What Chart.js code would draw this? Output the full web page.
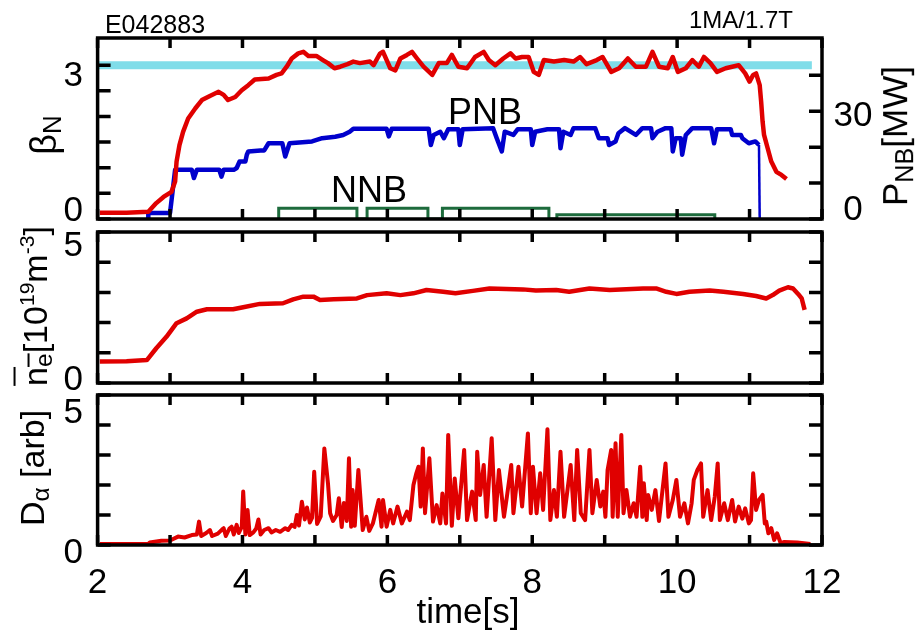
<!DOCTYPE html>
<html>
<head>
<meta charset="utf-8">
<script src="https://cdn.jsdelivr.net/npm/chart.js@4.4.0/dist/chart.umd.min.js"></script>
<style>
  body { margin: 0; background: #fff; font-family: "Liberation Sans", Arial, sans-serif; }
  #wrap { position: relative; width: 916px; height: 632px; overflow: hidden; }
  #wrap canvas { position: absolute; left: 0; top: 0; }
  .lbl { position: absolute; white-space: nowrap; color: #000; line-height: 1; transform: translate(-50%, -50%); }
  .rot { transform: translate(-50%, -50%) rotate(-90deg); }
  .sb { font-size: 0.72em; vertical-align: -0.22em; }
  .sp { font-size: 0.62em; vertical-align: 0.62em; }
  .ov { text-decoration: overline; text-decoration-thickness: 2px; }
</style>
</head>
<body>
<div id="wrap">
  <canvas id="pTop" width="916" height="632"></canvas>
  <canvas id="pMid" width="916" height="632"></canvas>
  <canvas id="pBot" width="916" height="632"></canvas>

  <div class="lbl" style="left:155px;top:24px;font-size:25px">E042883</div>
  <div class="lbl" style="left:741px;top:20px;font-size:24px">1MA/1.7T</div>
  <div class="lbl" style="left:485px;top:112px;font-size:36px">PNB</div>
  <div class="lbl" style="left:369px;top:190px;font-size:36px">NNB</div>
  <div class="lbl rot" style="left:46px;top:135px;font-size:36px">β<span class="sb">N</span></div>
  <div class="lbl rot" style="left:897px;top:136px;font-size:35px">P<span class="sb">NB</span>[MW]</div>
  <div class="lbl rot" style="left:36px;top:306px;font-size:34px"><span class="ov">n<span class="sb">e</span></span>[10<span class="sp">19</span>m<span class="sp">-3</span>]</div>
  <div class="lbl rot" style="left:34px;top:468px;font-size:34px">D<span class="sb">α</span> [arb]</div>
  <div class="lbl" style="left:468px;top:610px;font-size:35px">time[s]</div>
</div>

<script>
// ---- data ----
const timeTicks = [2, 3, 4, 5, 6, 7, 8, 9, 10, 11, 12];
const timeLabels = [2, 4, 6, 8, 10, 12];

const betaTicks = [0, 0.5, 1, 1.5, 2, 2.5, 3];
const betaLabels = [0, 3];
const pnbTicks = [0, 10, 20, 30, 40];
const pnbLabels = [0, 30];
const neTicks = [0, 1, 2, 3, 4, 5];
const neLabels = [0, 5];
const daTicks = [0, 1, 2, 3, 4, 5];
const daLabels = [0, 5];

const betaRefT = [2.0, 11.86];
const betaRefV = [3, 3];

const betaT = [2.03, 2.40, 2.70, 2.81, 2.91, 3.02, 3.07, 3.09, 3.13, 3.18, 3.25, 3.35, 3.44, 3.55, 3.67, 3.74, 3.80, 3.90, 3.99,
  4.08, 4.17, 4.36, 4.47, 4.54, 4.61, 4.68, 4.77, 4.84, 4.91, 5.02, 5.11, 5.18, 5.27, 5.35, 5.45, 5.53, 5.62, 5.76, 5.81, 5.90,
  5.94, 6.04, 6.11, 6.18, 6.27, 6.34, 6.41, 6.50, 6.62, 6.71, 6.82, 6.89, 6.98, 7.10, 7.21, 7.33, 7.40, 7.49, 7.60, 7.70, 7.77,
  7.86, 7.95, 8.02, 8.09, 8.16, 8.30, 8.44, 8.57, 8.66, 8.75, 8.89, 8.97, 9.09, 9.20, 9.32, 9.43, 9.57, 9.66, 9.75, 9.87, 9.94,
  10.01, 10.12, 10.21, 10.30, 10.37, 10.46, 10.55, 10.67, 10.76, 10.85, 10.94, 11.00, 11.05, 11.09, 11.14, 11.16, 11.18, 11.20,
  11.25, 11.30, 11.37, 11.44, 11.51];
const betaN = [0.12, 0.12, 0.14, 0.31, 0.43, 0.53, 0.73, 1.12, 1.44, 1.70, 1.96, 2.16, 2.32, 2.40, 2.48, 2.42, 2.32, 2.38, 2.51,
  2.61, 2.72, 2.74, 2.81, 2.84, 2.97, 3.13, 3.23, 3.26, 3.18, 3.18, 3.10, 3.04, 2.94, 2.97, 3.02, 3.07, 3.04, 3.07, 3.00, 3.23,
  3.26, 2.94, 2.90, 3.13, 3.20, 3.26, 3.13, 2.97, 2.81, 3.04, 3.04, 3.20, 2.97, 2.94, 3.16, 3.26, 3.10, 3.00, 3.13, 3.23, 3.13,
  3.16, 3.16, 2.87, 2.81, 3.10, 3.07, 3.10, 3.07, 3.16, 3.02, 3.10, 3.16, 2.87, 2.94, 3.13, 2.97, 2.97, 3.26, 2.97, 2.94, 3.16,
  2.87, 2.94, 3.10, 2.97, 3.16, 3.04, 2.87, 2.94, 2.97, 3.00, 2.84, 2.68, 2.81, 2.84, 2.61, 2.29, 1.90, 1.64,
  1.38, 1.12, 0.92, 0.86, 0.78];

const pnbT = [2.70, 2.70, 3.00, 3.07, 3.30, 3.33, 3.37, 3.68, 3.71, 3.74, 3.88, 3.92, 3.96, 4.04, 4.06, 4.08, 4.25, 4.30, 4.36,
  4.55, 4.59, 4.65, 4.96, 5.10, 5.28, 5.39, 5.48, 5.53, 5.99, 6.02, 6.06, 6.57, 6.60, 6.64, 6.73, 6.78, 6.84, 6.98, 7.00, 7.04,
  7.46, 7.51, 7.58, 7.62, 7.74, 7.80, 7.98, 8.00, 8.04, 8.21, 8.37, 8.39, 8.43, 8.53, 8.57, 8.87, 8.92, 9.04, 9.06, 9.15, 9.19,
  9.28, 9.43, 9.52, 9.64, 9.66, 9.73, 9.84, 9.92, 9.94, 9.98, 10.05, 10.07, 10.12, 10.21, 10.47, 10.51, 10.55, 10.74, 10.76,
  10.88, 10.90, 10.99, 11.08, 11.13, 11.14];
const pnbMW = [0, 1.7, 1.7, 13.7, 13.7, 11.4, 13.7, 13.7, 11.8, 13.7, 13.7, 14.2, 16.0, 16.0, 17.9, 18.8, 19.1, 19.1, 21.1,
  21.1, 17.4, 21.1, 21.6, 22.5, 22.9, 23.4, 24.3, 25.1, 25.1, 23.0, 25.1, 25.1, 20.6, 23.4, 24.3, 22.5, 25.0, 25.0, 20.6, 25.0,
  25.3, 22.5, 18.8, 24.3, 23.4, 25.0, 25.0, 20.6, 24.3, 25.0, 25.0, 19.7, 24.3, 23.4, 25.3, 25.3, 22.5, 22.5, 20.6, 21.6, 23.9,
  25.3, 23.4, 25.3, 25.3, 22.5, 24.3, 25.3, 25.3, 18.8, 22.5, 22.5, 17.9, 23.4, 25.3, 25.3, 21.1, 25.0, 25.0, 23.4,
  23.4, 22.5, 21.1, 21.6, 20.6, 0];

const nnbT = [4.50, 4.50, 5.58, 5.58, 5.72, 5.72, 6.56, 6.56, 6.76, 6.76, 8.23, 8.23, 8.34, 8.34, 10.52, 10.52];
const nnbMW = [0, 3.0, 3.0, 0, 0, 3.0, 3.0, 0, 0, 3.0, 3.0, 0, 0, 1.2, 1.2, 0];

const neT = [2.03, 2.40, 2.68, 2.81, 2.95, 3.09, 3.23, 3.37, 3.51, 3.87, 4.01, 4.24, 4.56, 4.70, 4.84, 4.98, 5.07, 5.26, 5.58,
  5.72, 5.99, 6.18, 6.36, 6.54, 6.77, 6.94, 7.18, 7.41, 7.87, 8.05, 8.33, 8.51, 8.79, 9.07, 9.53, 9.71, 9.85, 9.99, 10.17,
  10.45, 10.64, 10.91, 11.09, 11.23, 11.32, 11.41, 11.53, 11.60, 11.67, 11.72, 11.76];
const neV = [0.71, 0.72, 0.76, 1.15, 1.53, 1.98, 2.14, 2.36, 2.44, 2.44, 2.51, 2.62, 2.64, 2.77, 2.86, 2.86, 2.75, 2.77, 2.80,
  2.91, 2.97, 2.91, 2.97, 3.08, 3.02, 2.97, 3.05, 3.13, 3.10, 3.06, 3.08, 3.02, 3.13, 3.08, 3.13, 3.13, 3.02, 2.95, 3.02,
  3.06, 3.02, 2.95, 2.88, 2.80, 2.91, 3.06, 3.17, 3.13, 2.95, 2.80, 2.42];

const daT = [2.03, 2.70, 2.72, 2.88, 3.00, 3.11, 3.20, 3.30, 3.37, 3.40, 3.43, 3.50, 3.55, 3.58, 3.66, 3.72, 3.74, 3.77, 3.82,
  3.85, 3.88, 3.92, 3.95, 3.99, 4.01, 4.04, 4.07, 4.10, 4.15, 4.19, 4.22, 4.25, 4.30, 4.36, 4.40, 4.46, 4.52, 4.59, 4.63, 4.68,
  4.72, 4.75, 4.78, 4.82, 4.86, 4.89, 4.93, 4.96, 4.99, 5.03, 5.08, 5.13, 5.18, 5.21, 5.25, 5.30, 5.33, 5.37, 5.40, 5.44, 5.47,
  5.50, 5.52, 5.55, 5.60, 5.66, 5.71, 5.75, 5.80, 5.88, 5.92, 5.94, 5.99, 6.04, 6.08, 6.14, 6.20, 6.27, 6.31, 6.36, 6.40, 6.43,
  6.46, 6.49, 6.52, 6.58, 6.63, 6.68, 6.73, 6.76, 6.81, 6.84, 6.89, 6.93, 6.98, 7.06, 7.10, 7.17, 7.22, 7.24, 7.28, 7.33, 7.37,
  7.44, 7.49, 7.54, 7.61, 7.65, 7.71, 7.74, 7.81, 7.86, 7.94, 7.98, 8.01, 8.06, 8.11, 8.15, 8.21, 8.25, 8.30, 8.34, 8.39, 8.44,
  8.53, 8.58, 8.62, 8.67, 8.73, 8.79, 8.83, 8.89, 8.94, 8.98, 9.01, 9.04, 9.09, 9.11, 9.15, 9.18, 9.23, 9.26, 9.30, 9.35, 9.40,
  9.44, 9.49, 9.52, 9.54, 9.58, 9.60, 9.65, 9.70, 9.75, 9.84, 9.88, 9.94, 9.99, 10.04, 10.10, 10.15, 10.20, 10.23, 10.28, 10.33,
  10.36, 10.42, 10.47, 10.52, 10.56, 10.59, 10.65, 10.70, 10.76, 10.80, 10.85, 10.90, 10.94, 10.99, 11.02, 11.05, 11.09, 11.13,
  11.18, 11.21, 11.23, 11.26, 11.30, 11.34, 11.38, 11.43, 11.48, 11.66, 11.84];
const daV = [0.03, 0.04, 0.08, 0.14, 0.15, 0.28, 0.25, 0.33, 0.35, 0.78, 0.30, 0.40, 0.50, 0.30, 0.38, 0.52, 0.56, 0.30, 0.55,
  0.61, 0.35, 0.67, 0.40, 0.60, 1.78, 0.35, 1.17, 0.33, 0.42, 0.55, 0.85, 0.35, 0.50, 0.56, 0.42, 0.50, 0.44, 0.56, 0.50, 0.67,
  0.60, 1.00, 0.65, 1.44, 0.85, 1.25, 0.75, 0.90, 2.44, 0.70, 0.95, 3.22, 2.06, 1.06, 0.80, 1.00, 1.56, 0.60, 1.40, 0.80, 2.89,
  0.61, 1.83, 0.64, 2.50, 0.50, 0.94, 0.47, 0.72, 1.50, 0.61, 1.50, 0.61, 1.17, 0.72, 1.28, 0.72, 1.11, 0.83, 2.00, 2.39, 2.61,
  1.28, 3.22, 1.06, 2.89, 0.78, 1.33, 0.72, 1.72, 0.72, 3.67, 0.64, 2.22, 0.89, 3.17, 0.83, 1.78, 0.83, 3.11, 1.67, 2.67, 0.94,
  3.56, 0.83, 2.50, 0.94, 1.61, 2.67, 1.06, 2.61, 1.28, 3.72, 1.06, 2.61, 1.06, 2.39, 1.17, 3.86, 0.83, 1.83, 0.94, 3.11, 0.94,
  2.67, 0.83, 3.17, 1.06, 0.83, 3.17, 1.06, 2.17, 1.28, 1.78, 0.94, 2.50, 3.17, 0.94, 3.39, 0.94, 3.67, 1.06, 1.83, 0.94, 1.39,
  0.94, 2.61, 0.94, 2.06, 0.83, 1.67, 1.17, 1.83, 0.80, 2.72, 0.94, 1.50, 2.17, 0.94, 1.39, 0.72, 1.39, 2.17, 2.50, 2.72,
  0.94, 1.83, 0.83, 1.61, 2.72, 0.83, 1.39, 0.83, 1.50, 0.78, 1.28, 0.88, 1.22, 0.72, 0.83, 2.39, 1.17, 1.50,
  1.67, 0.72, 0.78, 0.39, 0.56, 0.17, 0.39, 0.06, 0.10, 0.08, 0.03];

// ---- helpers ----
const pts = (ts, vs) => ts.map((t, i) => ({ x: t, y: vs[i] }));
const RED = '#e00000', BLUE = '#0000cc', GREEN = '#1d6b3c', CYAN = '#80dde9';
const FONT = '35px "Liberation Sans", Arial, sans-serif';

// frame, inward ticks and tick labels, gnuplot style
const framePlugin = {
  id: 'frame',
  afterDraw(chart, args, o) {
    const { ctx, chartArea: a, scales } = chart;
    ctx.save();
    ctx.strokeStyle = '#000';
    ctx.lineWidth = 3.5;
    ctx.beginPath();
    timeTicks.forEach(v => {
      const px = scales.x.getPixelForValue(v);
      ctx.moveTo(px, a.top); ctx.lineTo(px, a.top + 10);
      ctx.moveTo(px, a.bottom); ctx.lineTo(px, a.bottom - 10);
    });
    o.left.ticks.forEach(v => {
      const py = scales[o.left.id].getPixelForValue(v);
      ctx.moveTo(a.left, py); ctx.lineTo(a.left + 13, py);
    });
    o.right.ticks.forEach(v => {
      const py = scales[o.right.id].getPixelForValue(v);
      ctx.moveTo(a.right, py); ctx.lineTo(a.right - 13, py);
    });
    ctx.stroke();
    ctx.strokeRect(a.left, a.top, a.right - a.left, a.bottom - a.top);

    ctx.fillStyle = '#000';
    ctx.font = FONT;
    ctx.textBaseline = 'alphabetic';
    const cap = 12.5; // half digit height
    ctx.textAlign = 'right';
    o.left.labels.forEach(v => {
      const py = scales[o.left.id].getPixelForValue(v) + (o.left.shift[v] || 0);
      ctx.fillText(String(v), 83, py + cap);
    });
    if (o.right.labels) {
      ctx.textAlign = 'center';
      o.right.labels.forEach(v => {
        const py = scales[o.right.id].getPixelForValue(v) + (o.right.shift[v] || 0);
        ctx.fillText(String(v), 853, py + cap);
      });
    }
    if (o.timeLabels) {
      ctx.textAlign = 'center';
      timeLabels.forEach(v => ctx.fillText(String(v), scales.x.getPixelForValue(v), 580 + cap));
    }
    ctx.restore();
  }
};

function panel(id, box, datasets, scales, frameOpts) {
  return new Chart(document.getElementById(id), {
    type: 'line',
    data: { datasets },
    options: {
      responsive: false,
      animation: false,
      devicePixelRatio: 1,
      events: [],
      layout: { padding: { left: box.left, top: box.top, right: 916 - box.right, bottom: 632 - box.bottom } },
      plugins: { legend: { display: false }, tooltip: { enabled: false }, frame: frameOpts },
      elements: { point: { radius: 0 }, line: { tension: 0, borderJoinStyle: 'round', fill: false } },
      scales: Object.assign({ x: { type: 'linear', min: 2, max: 12, display: false } }, scales)
    },
    plugins: [framePlugin]
  });
}

// top: beta_N and beam power
const lastPnb = pnbT.length - 1;
panel('pTop', { left: 97.6, right: 822, top: 38, bottom: 219 }, [
  { data: pts(betaT, betaN), borderColor: RED, borderWidth: 4.5, yAxisID: 'y' },
  { data: pts(pnbT, pnbMW), borderColor: BLUE, borderWidth: 4.5, yAxisID: 'y2',
    segment: { borderWidth: c => c.p1DataIndex === lastPnb ? 2.5 : 4.5 } },
  { data: pts(nnbT, nnbMW), borderColor: GREEN, borderWidth: 3, yAxisID: 'y2', borderJoinStyle: 'miter' },
  { data: pts(betaRefT, betaRefV), borderColor: CYAN, borderWidth: 8, yAxisID: 'y', borderCapStyle: 'butt' }
], {
  y: { type: 'linear', min: 0, max: 3.53, display: false },
  y2: { type: 'linear', position: 'right', min: 0, max: 50.4, display: false }
}, {
  left: { id: 'y', ticks: betaTicks, labels: betaLabels, shift: { 0: -11, 3: 8 } },
  right: { id: 'y2', ticks: pnbTicks, labels: pnbLabels, shift: { 0: -11.5, 30: 2 } }
});

// middle: line averaged density
panel('pMid', { left: 97.6, right: 822, top: 232, bottom: 383 }, [
  { data: pts(neT, neV), borderColor: RED, borderWidth: 4.5 }
], {
  y: { type: 'linear', min: 0, max: 5, display: false }
}, {
  left: { id: 'y', ticks: neTicks, labels: neLabels, shift: { 0: -6, 5: 11 } },
  right: { id: 'y', ticks: neTicks }
});

// bottom: D-alpha
panel('pBot', { left: 97.6, right: 822, top: 395, bottom: 545 }, [
  { data: pts(daT, daV), borderColor: RED, borderWidth: 4 }
], {
  y: { type: 'linear', min: 0, max: 5, display: false }
}, {
  left: { id: 'y', ticks: daTicks, labels: daLabels, shift: { 0: 5, 5: 15 } },
  right: { id: 'y', ticks: daTicks },
  timeLabels: true
});
</script>
</body>
</html>
